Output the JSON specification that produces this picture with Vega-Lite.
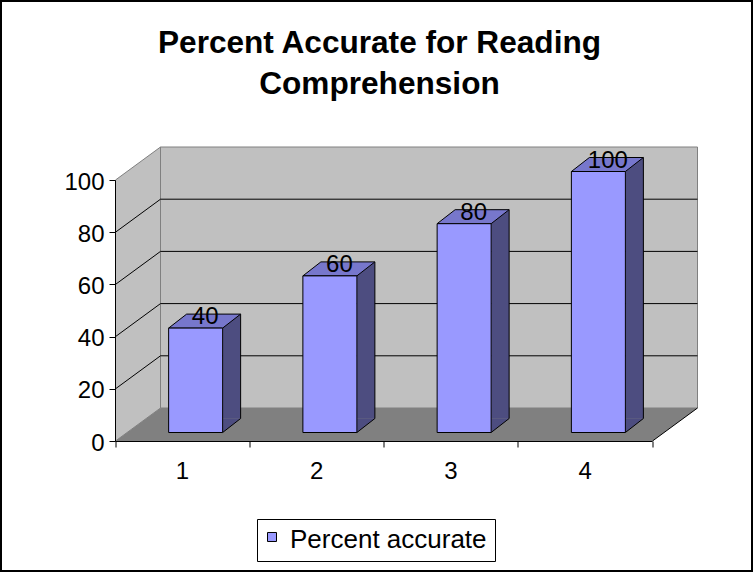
{
  "$schema": "https://vega.github.io/schema/vega-lite/v6.json",
  "width": 751,
  "height": 570,
  "autosize": "none",
  "padding": 1,
  "background": "white",
  "config": {
    "font": "Liberation Sans",
    "view": {"stroke": "black", "strokeWidth": 2, "fill": "white"}
  },
  "title": {
    "text": ["Percent Accurate for Reading", "Comprehension"],
    "font": "Liberation Sans",
    "fontSize": 31.6,
    "fontWeight": "bold",
    "color": "black",
    "anchor": "middle",
    "frame": "group",
    "baseline": "top",
    "lineHeight": 41,
    "offset": 0,
    "dx": 3,
    "dy": 100
  },
  "datasets": {
    "scores": [
      {"Trial": 1, "Percent accurate": 40},
      {"Trial": 2, "Percent accurate": 60},
      {"Trial": 3, "Percent accurate": 80},
      {"Trial": 4, "Percent accurate": 100}
    ],
    "gridTicks": [{"v": 20}, {"v": 40}, {"v": 60}, {"v": 80}]
  },
  "data": {"name": "scores"},
  "resolve": {"axis": {"x": "independent", "y": "independent"}},
  "layer": [
    {
      "data": {"values": [{}]},
      "mark": {"type": "rect", "fill": "#C0C0C0", "stroke": "#808080", "strokeWidth": 1},
      "encoding": {
        "x": {"datum": 0.5, "type": "quantitative", "scale": {"domain": [0.5, 4.5], "range": [159.5, 696.5], "nice": false, "zero": false, "padding": 0},
          "axis": {"orient": "bottom", "offset": -130, "position": -45.5, "values": [0.5, 1.5, 2.5, 3.5, 4.5],
            "labelExpr": "datum.value < 4 ? format(datum.value + 0.5, 'd') : ''", "labelOffset": 67,
            "labelFlush": false, "labelOverlap": false, "labelBound": false, "grid": false, "title": null,
            "domainColor": "black", "tickColor": "black", "tickSize": 6, "labelColor": "black",
            "labelFont": "Liberation Sans", "labelFontSize": 24, "labelPadding": 12, "zindex": 1}},
        "x2": {"datum": 4.5},
        "y": {"datum": 0, "type": "quantitative", "scale": {"domain": [0, 100], "range": [407, 146], "nice": false, "zero": true, "padding": 0},
          "axis": {"orient": "left", "offset": -114, "position": 33, "values": [0, 20, 40, 60, 80, 100],
            "labelFlush": false, "labelOverlap": false, "labelBound": false, "grid": false, "title": null,
            "domainColor": "black", "tickColor": "black", "tickSize": 6, "labelColor": "black",
            "labelFont": "Liberation Sans", "labelFontSize": 24, "labelPadding": 5, "labelOffset": 2, "zindex": 1}},
        "y2": {"datum": 100}
      }
    },
    {
      "data": {"values": [{}]},
      "mark": {"type": "point", "shape": "M0,0 L0,-261 L-45,-228 L-45,33 Z", "size": 4, "filled": true, "fill": "#C0C0C0", "stroke": "#808080", "strokeWidth": 1, "opacity": 1},
      "encoding": {
        "x": {"datum": 0.5, "type": "quantitative", "axis": null},
        "y": {"datum": 0, "type": "quantitative", "axis": null}
      }
    },
    {
      "data": {"values": [{}]},
      "mark": {"type": "point", "shape": "M0,0 L537,0 L492,33 L-45,33 Z", "size": 4, "filled": true, "fill": "#808080", "strokeWidth": 0, "opacity": 1},
      "encoding": {
        "x": {"datum": 0.5, "type": "quantitative", "axis": null},
        "y": {"datum": 0, "type": "quantitative", "axis": null}
      }
    },
    {
      "data": {"name": "gridTicks"},
      "mark": {"type": "rule", "color": "black", "strokeWidth": 1},
      "encoding": {
        "x": {"datum": 0.5, "type": "quantitative", "axis": null},
        "x2": {"datum": 4.5},
        "y": {"field": "v", "type": "quantitative", "axis": null}
      }
    },
    {
      "data": {"name": "gridTicks"},
      "mark": {"type": "rule", "color": "black", "strokeWidth": 1, "xOffset": -45, "yOffset": 33},
      "encoding": {
        "x": {"datum": 0.5, "type": "quantitative", "axis": null},
        "x2": {"datum": 0.5},
        "y": {"field": "v", "type": "quantitative", "axis": null},
        "y2": {"field": "v"}
      }
    },
    {
      "data": {"values": [{}]},
      "mark": {"type": "rule", "color": "black", "strokeWidth": 1, "x2Offset": -45, "y2Offset": 33},
      "encoding": {
        "x": {"datum": 4.5, "type": "quantitative", "axis": null},
        "x2": {"datum": 4.5},
        "y": {"datum": 0, "type": "quantitative", "axis": null},
        "y2": {"datum": 0}
      }
    },
    {
      "mark": {"type": "rule", "color": "#4D4D80", "strokeWidth": 18, "strokeCap": "butt", "xOffset": 4, "yOffset": 10.5, "y2Offset": 10.5},
      "encoding": {
        "x": {"field": "Trial", "type": "quantitative", "axis": null},
        "y": {"field": "Percent accurate", "type": "quantitative", "axis": null},
        "y2": {"datum": 0}
      }
    },
    {
      "mark": {"type": "point", "shape": "M0,0 L0,-14 L18,-14 Z", "size": 4, "filled": true, "fill": "#4D4D80", "strokeWidth": 0, "opacity": 1, "xOffset": -5, "yOffset": 24.5},
      "encoding": {
        "x": {"field": "Trial", "type": "quantitative", "axis": null},
        "y": {"datum": 0, "type": "quantitative", "axis": null}
      }
    },
    {
      "mark": {"type": "point", "shape": "M0,0 L18,-14", "size": 4, "filled": false, "fill": null, "stroke": "black", "strokeWidth": 1, "opacity": 1, "xOffset": -5, "yOffset": 24.5},
      "encoding": {
        "x": {"field": "Trial", "type": "quantitative", "axis": null},
        "y": {"datum": 0, "type": "quantitative", "axis": null}
      }
    },
    {
      "mark": {"type": "rule", "color": "black", "strokeWidth": 1, "xOffset": 13, "yOffset": 10.5, "y2Offset": 10.5},
      "encoding": {
        "x": {"field": "Trial", "type": "quantitative", "axis": null},
        "y": {"field": "Percent accurate", "type": "quantitative", "axis": null},
        "y2": {"datum": 0}
      }
    },
    {
      "mark": {"type": "point", "shape": "M-27,0 L27,0 L45,-14 L-9,-14 Z", "size": 4, "filled": true, "fill": "#7777CC", "stroke": "black", "strokeWidth": 1, "opacity": 1, "xOffset": -32, "yOffset": 24.5},
      "encoding": {
        "x": {"field": "Trial", "type": "quantitative", "axis": null},
        "y": {"field": "Percent accurate", "type": "quantitative", "axis": null}
      }
    },
    {
      "mark": {"type": "bar", "width": 54, "stroke": "black", "strokeWidth": 1, "xOffset": -32, "yOffset": 24.5, "y2Offset": 24.5},
      "encoding": {
        "x": {"field": "Trial", "type": "quantitative", "axis": null},
        "y": {"field": "Percent accurate", "type": "quantitative", "axis": null},
        "y2": {"datum": 0},
        "color": {"datum": "Percent accurate", "type": "nominal",
          "scale": {"range": ["#9999FF"]},
          "legend": {"orient": "none", "legendX": 256, "legendY": 518, "title": null,
            "symbolType": "M-1,-1.67 L1,-1.67 L1,0.33 L-1,0.33 Z", "symbolSize": 81, "symbolStrokeColor": "black", "symbolStrokeWidth": 1, "symbolFillColor": "#9999FF", "symbolOffset": -6,
            "labelFont": "Liberation Sans", "labelFontSize": 26, "labelColor": "black", "labelOffset": 5, "labelLimit": 400,
            "strokeColor": "black", "fillColor": "white", "padding": 8}}
      }
    },
    {
      "mark": {"type": "text", "font": "Liberation Sans", "fontSize": 24, "color": "black", "align": "center", "baseline": "alphabetic", "xOffset": -22.5, "yOffset": 20.5},
      "encoding": {
        "x": {"field": "Trial", "type": "quantitative", "axis": null},
        "y": {"field": "Percent accurate", "type": "quantitative", "axis": null},
        "text": {"field": "Percent accurate", "type": "quantitative"}
      }
    }
  ]
}
